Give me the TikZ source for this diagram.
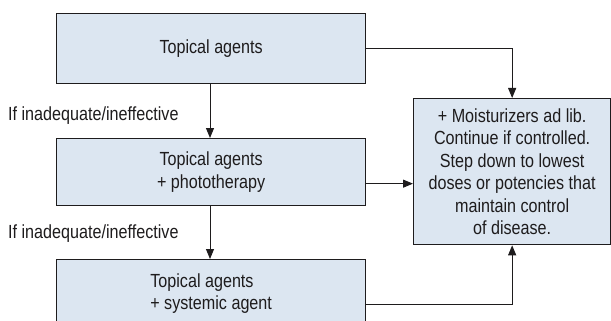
\documentclass[tikz,border=0pt]{standalone}
\usepackage{fontspec}
\setmainfont{Liberation Sans}[FakeStretch=0.85]
\usetikzlibrary{arrows.meta,calc}
\definecolor{boxfill}{RGB}{220,230,241}
\definecolor{ink}{RGB}{30,28,29}
\begin{document}
\begin{tikzpicture}[x=1pt,y=-1pt,
  stage/.style={draw=ink, line width=1.3pt, fill=boxfill, text=ink,
    align=center, inner sep=0pt, anchor=north west,
    font=\fontsize{19}{22.5}\selectfont},
  flow/.style={draw=ink, line width=1pt, -{Triangle[length=10pt,width=8pt]}},
  note/.style={text=ink, inner sep=0pt, anchor=west,
    font=\fontsize{19}{22.5}\selectfont}]
\clip (0,0) rectangle (611,321);
\fill[white] (0,0) rectangle (611,321);

% treatment stages
\node[stage, minimum width=309pt, minimum height=70pt] (b1) at (56,13) {Topical agents};
\node[stage, minimum width=309pt, minimum height=67pt] (b2) at (56,138) {Topical agents\\+ phototherapy};
\node[stage, align=left, minimum width=309pt, minimum height=68pt] (b3) at (56,259) {Topical agents\\+ systemic agent};

% maintenance box
\node[stage, minimum width=197pt, minimum height=146pt] (rb) at (413,98)
  {+ Moisturizers ad lib.\\Continue if controlled.\\Step down to lowest\\doses or potencies that\\maintain control\\of disease.};

% escalation labels
\node[note] (l1) at (8,116) {If inadequate/ineffective};
\node[note] (l2) at (8,234) {If inadequate/ineffective};

% escalation arrows
\draw[flow] (b1.south -| 210,0) -- (b2.north -| 210,0);
\draw[flow] (b2.south -| 210,0) -- (b3.north -| 210,0);

% arrows into the maintenance box
\coordinate (b2out) at ($(b2.east)+(0,11.5)$);
\coordinate (b3out) at ($(b3.east)+(0,11)$);
\draw[flow] (b1.east) -| (rb.north);
\draw[flow] (b2out) -- (b2out -| rb.west);
\draw[flow] (b3out) -| (rb.south);
\end{tikzpicture}
\end{document}
